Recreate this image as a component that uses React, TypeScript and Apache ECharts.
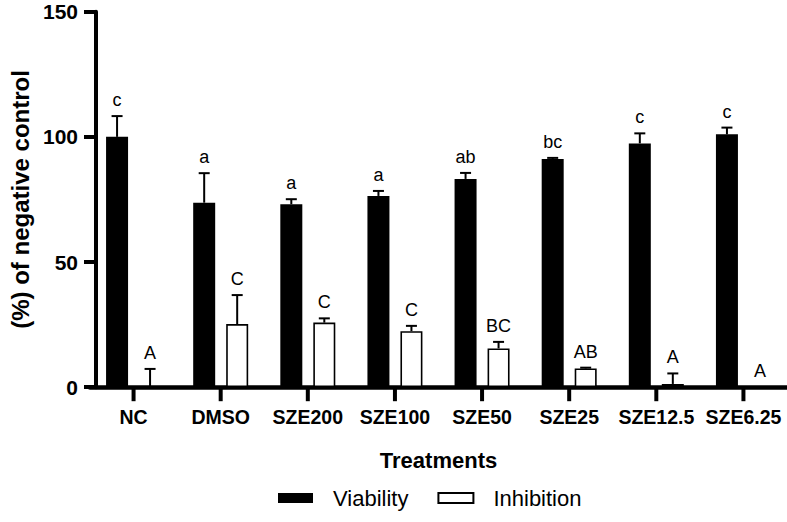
import React, { useEffect, useRef } from "react";
import * as echarts from "echarts";

const categories = ["NC", "DMSO", "SZE200", "SZE100", "SZE50", "SZE25", "SZE12.5", "SZE6.25"];
const viability = [100.0, 73.7, 73.1, 76.4, 83.2, 91.2, 97.4, 101.0];
const viabilityErr = [8.3, 11.8, 2.0, 2.0, 2.4, 0.4, 4.0, 2.7];
const viabilityLetters = ["c", "a", "a", "a", "ab", "bc", "c", "c"];
const inhibition = [0, 25.2, 25.8, 22.4, 15.5, 7.5, 1.3, 0];
const inhibitionErr = [7.3, 11.6, 1.7, 2.1, 2.6, 0.3, 4.2, 0];
const inhibitionLetters = ["A", "C", "C", "C", "BC", "AB", "A", "A"];
const yMin = 0;
const yMax = 150;
const yInterval = 50;

const FONT = '"Liberation Sans", Arial, Helvetica, sans-serif';
const BAR_W = 22;
const BAR_GAP = 11;
const CAP = 11;
const TICK_LEN = 14;

function errorSeries(vals: number[], errs: number[], letters: string[], side: number) {
  return {
    type: "custom",
    silent: true,
    z: 5,
    clip: false,
    encode: { x: 0, y: 1 },
    data: vals.map((v, i) => [i, v, errs[i]]),
    renderItem: (params: any, api: any) => {
      const i = params.dataIndex;
      const mean = api.value(1);
      const err = api.value(2);
      const base = api.coord([api.value(0), mean]);
      const top = api.coord([api.value(0), mean + err]);
      const x = base[0] + (side * (BAR_W + BAR_GAP)) / 2;
      const children: any[] = [];
      if (err > 0) {
        children.push({
          type: "line",
          shape: { x1: x, y1: base[1], x2: x, y2: top[1] },
          style: { stroke: "#000", lineWidth: 2 },
        });
        children.push({
          type: "line",
          shape: { x1: x - CAP / 2, y1: top[1], x2: x + CAP / 2, y2: top[1] },
          style: { stroke: "#000", lineWidth: 2 },
        });
      }
      children.push({
        type: "text",
        x,
        y: top[1] - 7,
        style: {
          text: letters[i],
          align: "center",
          verticalAlign: "bottom",
          fontSize: 18,
          fontFamily: FONT,
          fill: "#000",
        },
      });
      return { type: "group", children };
    },
  };
}

const tickSeries = {
  type: "custom",
  silent: true,
  z: 6,
  clip: false,
  encode: { x: 0, y: 1 },
  data: categories.map((_, i) => [i, yMin]),
  renderItem: (_params: any, api: any) => {
    const p = api.coord([api.value(0), api.value(1)]);
    return {
      type: "line",
      shape: { x1: p[0], y1: p[1], x2: p[0], y2: p[1] + TICK_LEN },
      style: { stroke: "#000", lineWidth: 4 },
    };
  },
};

export default function App() {
  const ref = useRef<HTMLDivElement>(null);
  useEffect(() => {
    if (!ref.current) return;
    const chart = echarts.init(ref.current, null, { renderer: "svg" });
    chart.setOption({
      animation: false,
      backgroundColor: "#fff",
      grid: { left: 84, right: -1, top: 11.7, bottom: 134.8, containLabel: false },
      legend: {
        data: ["Viability", "Inhibition"],
        left: 278,
        top: 487,
        padding: 0,
        itemWidth: 35,
        itemHeight: 10,
        itemGap: 29,
        icon: "rect",
        textStyle: { fontSize: 22, fontFamily: FONT, color: "#000", padding: [0, 0, 0, 15] },
      },
      xAxis: {
        type: "category",
        data: categories,
        name: "Treatments",
        nameLocation: "middle",
        nameGap: 62,
        nameTextStyle: { fontSize: 22, fontWeight: "bold", fontFamily: FONT, color: "#000" },
        axisLine: { show: true, lineStyle: { color: "#000", width: 4.5 } },
        axisTick: { show: false },
        axisLabel: { interval: 0, fontSize: 19.5, fontWeight: "bold", fontFamily: FONT, color: "#000", margin: 20 },
        splitLine: { show: false },
      },
      yAxis: {
        type: "value",
        min: yMin,
        max: yMax,
        interval: yInterval,
        offset: -6,
        name: "(%) of negative control",
        nameLocation: "middle",
        nameGap: 64,
        nameTextStyle: { fontSize: 24, fontWeight: "bold", fontFamily: FONT, color: "#000" },
        axisLine: { show: true, lineStyle: { color: "#000", width: 4 } },
        axisTick: { show: true, length: 12, lineStyle: { color: "#000", width: 4 } },
        axisLabel: { fontSize: 21, fontWeight: "bold", fontFamily: FONT, color: "#000", margin: 18 },
        splitLine: { show: false },
      },
      series: [
        {
          name: "Viability",
          type: "bar",
          data: viability,
          barWidth: BAR_W,
          barGap: (BAR_GAP / BAR_W) * 100 + "%",
          itemStyle: { color: "#000" },
        },
        {
          name: "Inhibition",
          type: "bar",
          data: inhibition,
          barWidth: BAR_W,
          barGap: (BAR_GAP / BAR_W) * 100 + "%",
          itemStyle: { color: "#fff", borderColor: "#000", borderWidth: 1.6 },
        },
        errorSeries(viability, viabilityErr, viabilityLetters, -1),
        errorSeries(inhibition, inhibitionErr, inhibitionLetters, 1),
        tickSeries,
      ],
    });
    return () => chart.dispose();
  }, []);
  return (
    <div
      ref={ref}
      style={{ position: "fixed", left: 0, top: 0, width: 787, height: 522, background: "#fff" }}
    />
  );
}
